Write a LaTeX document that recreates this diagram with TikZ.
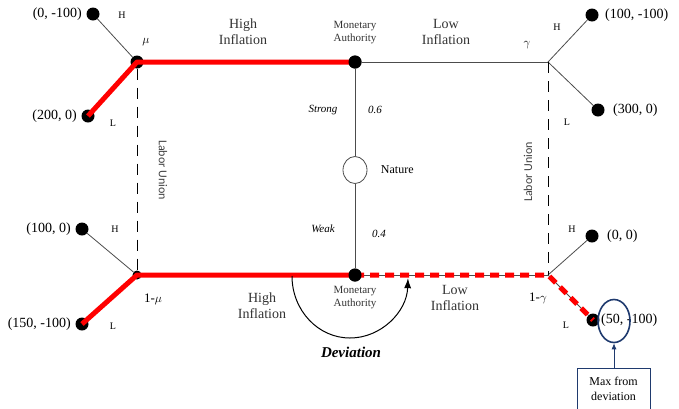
\documentclass[tikz,border=0pt]{standalone}
\usepackage{fontspec}
\setmainfont{Liberation Serif}
\newfontfamily\calib{Carlito}
\usetikzlibrary{arrows.meta,positioning,shapes.geometric}
\definecolor{palRed}{HTML}{FF0000}
\definecolor{palNavy}{HTML}{1F3A6E}

\begin{document}
\begin{tikzpicture}[
  x=1pt, y=-1pt,
  font=\fontsize{14}{15}\selectfont,
  dot/.style={circle, fill=black, inner sep=0pt, minimum size=13pt},
  small/.style={font=\fontsize{11}{13}\selectfont, align=center},
  prob/.style={font=\fontsize{11}{13}\selectfont\itshape},
  tiny/.style={font=\fontsize{10}{11}\selectfont},
  move/.style={font=\fontsize{14}{16}\selectfont, align=center, text=black!80},
  thinline/.style={draw=black!70, line width=0.8pt},
  redline/.style={draw=palRed, line width=5pt},
  reddash/.style={draw=palRed, line width=5pt, dash pattern=on 9pt off 6pt},
  infoset/.style={dash pattern=on 11pt off 8pt, line width=0.8pt},
  union/.style={font=\calib\fontsize{12}{13}\selectfont, text=black!75},
]
\useasboundingbox (0,0) rectangle (679,408);

% decision nodes
\node[dot] (mu) at (137,62) {};
\node[dot] (maTop) at (355,62) {};
\coordinate (gamma) at (548,62);
\node[dot, minimum size=9pt] (omu) at (137,275) {};
\node[dot] (maBot) at (355,275) {};
\coordinate (ogamma) at (548,275);
\node[draw=black!70, ellipse, minimum width=24pt, minimum height=27pt, line width=0.8pt] (nature) at (355,170) {};

% terminal nodes
\node[dot] (pA) at (93,14) {};
\node[dot] (pB) at (88,116) {};
\node[dot] (pC) at (592,15) {};
\node[dot] (pD) at (598,110) {};
\node[dot] (pE) at (82,229) {};
\node[dot] (pF) at (82,324) {};
\node[dot] (pG) at (592,236) {};
\node[dot] (pH) at (593,320) {};

% payoffs
\node[left=1pt of pA] (payA) {(0, -100)};
\node[left=1pt of pB] (payB) {(200, 0)};
\node[right=3pt of pC] (payC) {(100, -100)};
\node[right=5pt of pD] (payD) {(300, 0)};
\node[left=1pt of pE] (payE) {(100, 0)};
\node[left=1pt of pF] (payF) {(150, -100)};
\node[right=5pt of pG] (payG) {(0, 0)};
\node[anchor=west, inner sep=0pt] (payH) at (601,320) {(50, -100)};

% branches
\draw[thinline] (mu) -- (pA);
\draw[redline, line join=round] (pB.center) -- (mu.center) -- (maTop.center);
\draw[thinline] (maTop) -- (gamma);
\draw[thinline] (gamma) -- (pC);
\draw[thinline] (gamma) -- (pD);
\draw[thinline] (omu) -- (pE);
\draw[redline, line join=round] (pF.center) -- (omu.center) -- (maBot.center);
\draw[thinline] (maBot) -- (ogamma);
\draw[thinline] (ogamma) -- (pG);
\draw[thinline] (ogamma) -- (pH);
\draw[reddash] (maBot.center) -- (ogamma) -- (pH.center);
\draw[thinline] (maTop) -- (nature) -- (maBot);
\draw[infoset] (mu) -- (omu);
\draw[infoset] (gamma) -- (ogamma);
\node[dot] (maTopDot) at (maTop) {};
\node[dot] (maBotDot) at (maBot) {};

% move labels
\node[tiny] (hA) at (122,15) {H};
\node[tiny] (lA) at (113,123) {L};
\node[tiny] (hB) at (557,27) {H};
\node[tiny] (lB) at (567,122) {L};
\node[tiny] (hC) at (115,229) {H};
\node[tiny] (lC) at (113,326) {L};
\node[tiny] (hD) at (572,229) {H};
\node[tiny] (lD) at (566,325) {L};
\node[font=\fontsize{13}{14}\selectfont] (muLab) at (146,42) {$\mu$};
\node[font=\fontsize{13}{14}\selectfont] (gaLab) at (527,45) {$\gamma$};
\node[font=\fontsize{13}{14}\selectfont] (omuLab) at (153,299) {1-$\mu$};
\node[font=\fontsize{13}{14}\selectfont] (ogaLab) at (538,298) {1-$\gamma$};
\node[move] (hiTop) at (243,32) {High\\Inflation};
\node[move] (loTop) at (446,32) {Low\\Inflation};
\node[move] (hiBot) at (262,306) {High\\Inflation};
\node[move] (loBot) at (455,298) {Low\\Inflation};
\node[small, text=black!80] (maTopLab) at (355,33) {Monetary\\Authority};
\node[small, text=black!80] (maBotLab) at (355,298) {Monetary\\Authority};
\node[prob] (strong) at (323,110) {Strong};
\node[prob] (pStrong) at (375,110) {0.6};
\node[prob] (weak) at (323,229) {Weak};
\node[prob] (pWeak) at (379,234) {0.4};
\node[font=\fontsize{12}{14}\selectfont, right=10pt of nature] (natLab) {Nature};
\node[union, rotate=-90] (unionL) at (163,170) {Labor Union};
\node[union, rotate=90] (unionR) at (528,172) {Labor Union};

% deviation
\coordinate (devStart) at (292,276);
\draw[line width=1pt, -{Latex[length=10pt,width=7pt]}] (devStart) arc[start angle=180, end angle=358, x radius=58pt, y radius=62pt];
\node[font=\fontsize{15}{17}\selectfont\bfseries\itshape] (devLab) at (351,352) {Deviation};

% max from deviation
\node[draw=palNavy, ellipse, line width=1.6pt, minimum width=32pt, minimum height=43pt, inner sep=0pt] (maxring) at (614,321) {};
\node[draw=palNavy, line width=0.8pt, anchor=north, minimum width=73pt, minimum height=50pt] (maxbox) at (613.5,368) {};
\node[font=\fontsize{12}{15}\selectfont, align=center, below=6pt of maxbox.north] (maxLab) {Max from\\deviation};
\draw[draw=palNavy, line width=0.8pt, -{Latex[length=6pt,width=5pt]}] (maxbox.north -| maxring) -- (maxring.south);
\end{tikzpicture}
\end{document}
